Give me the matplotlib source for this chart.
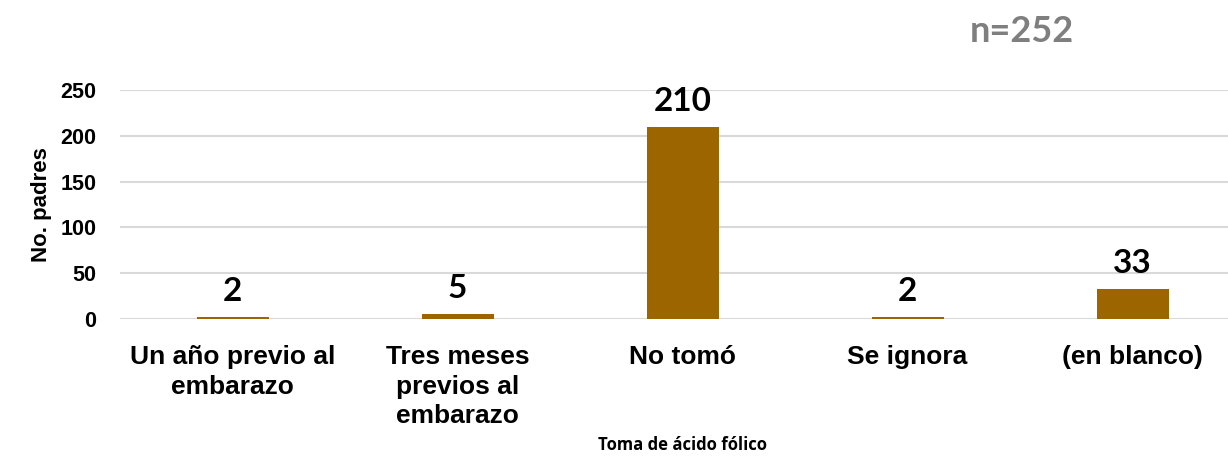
import matplotlib
matplotlib.use("Agg")
import matplotlib.pyplot as plt

categories = ["Un año previo al\nembarazo", "Tres meses\nprevios al\nembarazo", "No tomó", "Se ignora", "(en blanco)"]
values = [2, 5, 210, 2, 33]
yticks = [0, 50, 100, 150, 200, 250]

fig = plt.figure(figsize=(12.28, 4.57), dpi=100)
ax = fig.add_axes([120/1228, 1-319/457, 1-120/1228, 229/457])

x = list(range(len(categories)))
ax.bar(x, values, width=0.32, color="#9C6500", zorder=3)
ax.set_xlim(-0.5, -0.5 + (1228-120)/225)
ax.set_ylim(0, 250)
ax.set_yticks(yticks)
ax.set_yticklabels([str(t) for t in yticks], fontfamily="Liberation Sans", fontweight="bold", fontsize=15.5)
ax.set_xticks(x)
ax.set_xticklabels(categories, fontfamily="Liberation Sans", fontweight="bold", fontsize=19, linespacing=1.28, va="top")
ax.tick_params(axis="both", length=0)
ax.tick_params(axis="x", pad=19)
ax.tick_params(axis="y", pad=17)
ax.grid(axis="y", color="#D9D9D9", lw=1.5, zorder=0)
for s in ax.spines.values():
    s.set_visible(False)
ax.set_axisbelow(True)

for xi, v in zip(x, values):
    ax.annotate(str(v), (xi, v), xytext=(0, 8), textcoords="offset points",
                ha="center", va="bottom", fontfamily="Lato", fontweight="bold", fontsize=24, color="#000000")

ax.set_ylabel("No. padres", fontfamily="Liberation Sans", fontweight="bold", fontsize=16, labelpad=6)
fig.text(683/1228, 1-445/457, "Toma de ácido fólico", ha="center", va="center",
         fontfamily="Open Sans", fontweight="bold", fontsize=12)
fig.text(1022/1228, 1-32/457, "n=252", ha="center", va="center",
         fontfamily="Lato", fontweight="bold", fontsize=26, color="#7F7F7F")

fig.savefig("out.png", dpi=100)
